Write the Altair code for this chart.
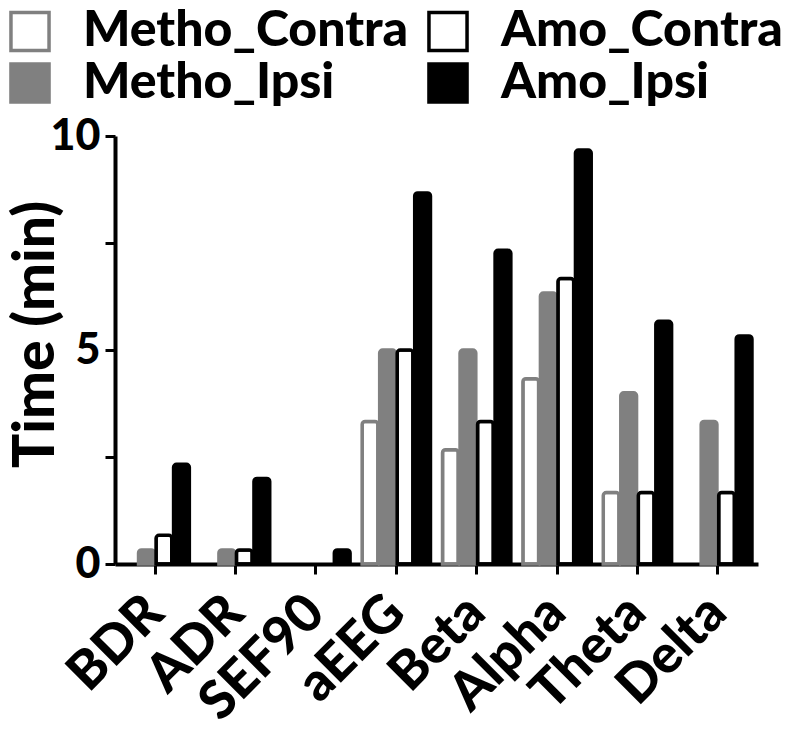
import altair as alt
import pandas as pd

categories = ["BDR", "ADR", "SEF90", "aEEG", "Beta", "Alpha", "Theta", "Delta"]
series_order = ["Metho_Contra", "Metho_Ipsi", "Amo_Contra", "Amo_Ipsi"]

metho_contra = [0, 0, 0, 3.33, 2.67, 4.33, 1.67, 0]
metho_ipsi = [0.33, 0.33, 0, 5.0, 5.0, 6.33, 4.0, 3.33]
amo_contra = [0.67, 0.33, 0, 5.0, 3.33, 6.67, 1.67, 1.67]
amo_ipsi = [2.33, 2.0, 0.33, 8.67, 7.33, 9.67, 5.67, 5.33]

fill_colors = ["#ffffff", "#808080", "#ffffff", "#000000"]
stroke_colors = ["#808080", "#808080", "#000000", "#000000"]

values = {
    "Metho_Contra": metho_contra,
    "Metho_Ipsi": metho_ipsi,
    "Amo_Contra": amo_contra,
    "Amo_Ipsi": amo_ipsi,
}
rows = []
for s in series_order:
    for c, v in zip(categories, values[s]):
        rows.append({"category": c, "series": s, "value": v})
df = pd.DataFrame(rows)

FONT = "Lato"
WEIGHT = 900

legend = alt.Legend(
    title=None,
    orient="none",
    legendX=-110,
    legendY=-130,
    columns=2,
    columnPadding=12,
    rowPadding=-9,
    symbolType="square",
    symbolSize=1450,
    symbolStrokeWidth=3.5,
    labelFont=FONT,
    labelFontWeight=WEIGHT,
    labelFontSize=50,
    labelColor="black",
    labelOffset=28,
    labelLimit=600,
)

chart = (
    alt.Chart(df)
    .transform_filter("datum.value > 0")
    .mark_bar(strokeWidth=3.5, cornerRadiusTopLeft=3, cornerRadiusTopRight=3)
    .encode(
        x=alt.X(
            "category:N",
            sort=categories,
            scale=alt.Scale(domain=categories, paddingInner=0.15, paddingOuter=0.075),
            axis=alt.Axis(
                title=None,
                labelAngle=-45,
                labelAlign="right",
                labelBaseline="middle",
                labelPadding=30,
                labelFontSize=53,
            ),
        ),
        xOffset=alt.XOffset(
            "series:N",
            sort=series_order,
            scale=alt.Scale(domain=series_order, paddingInner=0.1, paddingOuter=0),
        ),
        y=alt.Y(
            "value:Q",
            scale=alt.Scale(domain=[0, 10], nice=False),
            axis=alt.Axis(
                title="Time (min)",
                values=[0, 2.5, 5, 7.5, 10],
                labelExpr="datum.value % 5 == 0 ? datum.label : ''",
                labelPadding=5,
                labelFontSize=43,
                titleFontSize=57,
                titleX=-62,
                titleY=198,
                titleAngle=-90,
                titleAlign="center",
                titleBaseline="alphabetic",
            ),
        ),
        fill=alt.Fill(
            "series:N",
            scale=alt.Scale(domain=series_order, range=fill_colors),
            legend=legend,
        ),
        stroke=alt.Stroke(
            "series:N",
            scale=alt.Scale(domain=series_order, range=stroke_colors),
            legend=legend,
        ),
    )
    .properties(
        width=643,
        height=428,
        autosize=alt.AutoSizeParams(type="none"),
        padding={"left": 107, "top": 128, "right": 34, "bottom": 158},
    )
    .configure_view(stroke=None)
    .configure_axis(
        grid=False,
        domainColor="black",
        domainWidth=4,
        tickColor="black",
        tickWidth=3,
        tickSize=10,
        labelFont=FONT,
        labelFontWeight=WEIGHT,
        labelColor="black",
        titleFont=FONT,
        titleFontWeight=WEIGHT,
        titleColor="black",
    )
)

chart.save("out.html", embed_options={"renderer": "svg", "actions": False})
